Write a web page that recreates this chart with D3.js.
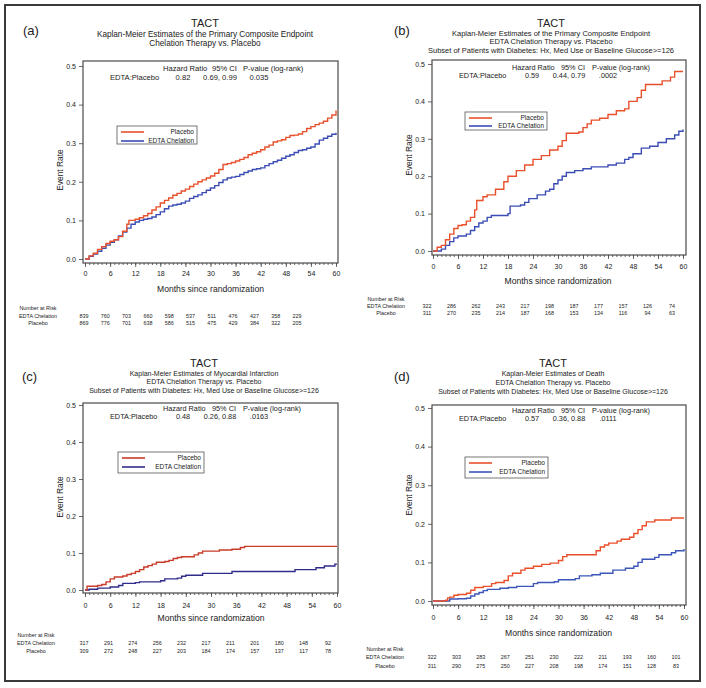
<!DOCTYPE html>
<html><head><meta charset="utf-8">
<script src="https://cdn.jsdelivr.net/npm/d3@7"></script>
<style>body{margin:0;background:#fff} text{font-family:"Liberation Sans",Arial,sans-serif;fill:#222}</style>
</head><body><svg id="c" width="706" height="688"></svg>
<script>
// ---------- data ----------
const monthTicks = [0,6,12,18,24,30,36,42,48,54,60];
const yTicks = [0,0.1,0.2,0.3,0.4,0.5];
const seriesNames = ["Placebo","EDTA Chelation"];
const riskRowLabels = ["Number at Risk","EDTA Chelation","Placebo"];
const hrHeader = ["Hazard Ratio","95% CI","P-value (log-rank)"];

const titlesA = ["TACT","Kaplan-Meier Estimates of the Primary Composite Endpoint","Chelation Therapy vs. Placebo"];
const titlesB = ["TACT","Kaplan-Meier Estimates of the Primary Composite Endpoint","EDTA Chelation Therapy vs. Placebo","Subset of Patients with Diabetes: Hx, Med Use or Baseline Glucose>=126"];
const titlesC = ["TACT","Kaplan-Meier Estimates of Myocardial Infarction","EDTA Chelation Therapy vs. Placebo","Subset of Patients with Diabetes: Hx, Med Use or Baseline Glucose>=126"];
const titlesD = ["TACT","Kaplan-Meier Estimates of Death","EDTA Chelation Therapy vs. Placebo","Subset of Patients with Diabetes: Hx, Med Use or Baseline Glucose>=126"];

const hrA = ["EDTA:Placebo","0.82","0.69, 0.99","0.035"];
const hrB = ["EDTA:Placebo","0.59","0.44, 0.79",".0002"];
const hrC = ["EDTA:Placebo","0.48","0.26, 0.88",".0163"];
const hrD = ["EDTA:Placebo","0.57","0.36, 0.88",".0111"];

const riskA_edta = [839,760,703,660,598,537,511,476,427,358,229];
const riskA_plac = [869,776,701,638,586,515,475,429,384,322,205];
const riskB_edta = [322,286,262,243,217,198,187,177,157,126,74];
const riskB_plac = [311,270,235,214,187,168,153,134,116,94,63];
const riskC_edta = [317,291,274,256,232,217,211,201,180,148,92];
const riskC_plac = [309,272,248,227,203,184,174,157,137,117,78];
const riskD_edta = [322,303,283,267,251,230,222,211,193,160,101];
const riskD_plac = [311,290,275,250,227,208,198,174,151,128,83];

// step curves: [month, event rate]
const kmA_plac = [[0,0],[1,0.008],[2,0.015],[3,0.025],[4,0.032],[5,0.04],[6,0.046],[7,0.05],[8,0.058],[9,0.072],[10,0.09],[10.5,0.1],[12,0.103],[13,0.107],[14,0.112],[15,0.118],[16,0.127],[17,0.135],[18,0.145],[19,0.152],[20,0.158],[21,0.165],[22,0.17],[23,0.176],[24,0.181],[25,0.188],[26,0.194],[27,0.2],[28,0.205],[29,0.21],[30,0.215],[31,0.222],[32,0.232],[33,0.245],[34,0.247],[35,0.25],[36,0.254],[37,0.258],[38,0.263],[39,0.27],[40,0.274],[41,0.278],[42,0.283],[43,0.29],[44,0.295],[45,0.303],[46,0.306],[47,0.309],[48,0.315],[49,0.32],[50,0.321],[51,0.324],[52,0.33],[53,0.338],[54,0.343],[55,0.348],[56,0.352],[57,0.357],[58,0.365],[59,0.373],[60,0.385]];
const kmA_edta = [[0,0],[1,0.007],[2,0.013],[3,0.02],[4,0.028],[5,0.036],[6,0.043],[7,0.05],[8,0.06],[9,0.07],[10,0.08],[11,0.09],[12,0.096],[13,0.1],[14,0.103],[15,0.105],[16,0.109],[17,0.115],[18,0.122],[19,0.13],[20,0.137],[21,0.14],[22,0.142],[23,0.145],[24,0.15],[25,0.157],[26,0.162],[27,0.166],[28,0.172],[29,0.178],[30,0.184],[31,0.19],[32,0.198],[33,0.205],[34,0.21],[35,0.212],[36,0.214],[37,0.219],[38,0.224],[39,0.228],[40,0.232],[41,0.234],[42,0.236],[43,0.242],[44,0.247],[45,0.252],[46,0.256],[47,0.261],[48,0.266],[49,0.27],[50,0.276],[51,0.281],[52,0.283],[53,0.287],[54,0.29],[55,0.298],[56,0.308],[57,0.313],[58,0.318],[59,0.323],[60,0.327]];

const kmB_plac = [[0,0],[1,0.01],[2,0.015],[3,0.03],[4,0.045],[5,0.06],[6,0.068],[7,0.07],[8,0.08],[9,0.09],[10,0.11],[10.5,0.135],[12,0.145],[13,0.15],[15,0.165],[17,0.185],[18,0.2],[20,0.215],[22,0.23],[24,0.245],[26,0.255],[28,0.27],[30,0.28],[31,0.295],[32,0.315],[35,0.318],[36,0.33],[37,0.34],[38,0.35],[40,0.355],[42,0.365],[44,0.375],[46,0.38],[47,0.4],[49,0.41],[50,0.43],[51,0.445],[54,0.445],[55,0.455],[57,0.465],[58,0.48],[60,0.48]];
const kmB_edta = [[0,0],[2,0.005],[3,0.015],[4,0.025],[5,0.035],[6,0.04],[8,0.045],[9,0.055],[10,0.065],[11,0.075],[12,0.08],[13,0.09],[14,0.095],[18,0.1],[18.5,0.12],[21,0.123],[22,0.13],[23,0.14],[25,0.15],[27,0.16],[28,0.165],[29,0.18],[30,0.19],[31,0.2],[32,0.21],[34,0.215],[36,0.22],[38,0.225],[42,0.23],[44,0.235],[46,0.245],[47,0.25],[48,0.26],[50,0.275],[52,0.28],[54,0.29],[56,0.3],[58,0.31],[59,0.32],[60,0.325]];

const kmC_plac = [[0,0],[0.5,0.01],[3,0.012],[4,0.015],[5,0.022],[6,0.03],[7,0.035],[9,0.038],[10,0.042],[11,0.045],[12,0.05],[13,0.055],[14,0.062],[15,0.066],[16,0.07],[17,0.075],[19,0.077],[20,0.08],[21,0.085],[22,0.088],[23,0.09],[26,0.095],[27,0.1],[28,0.105],[32,0.108],[35,0.11],[37,0.115],[38,0.118],[60,0.118]];
const kmC_edta = [[0,0],[1,0.002],[3,0.005],[6,0.008],[8,0.012],[9,0.018],[12,0.02],[13,0.022],[18,0.025],[19,0.03],[22,0.032],[23,0.037],[24,0.04],[28,0.045],[35,0.05],[50,0.055],[55,0.06],[57,0.065],[59.5,0.07],[60,0.07]];

const kmD_plac = [[0,0],[3,0.002],[3.5,0.008],[4,0.01],[5,0.015],[6,0.017],[8,0.02],[9,0.028],[10,0.035],[12,0.038],[14,0.045],[15,0.048],[17,0.053],[18,0.065],[19,0.072],[21,0.08],[22,0.085],[24,0.09],[26,0.095],[28,0.098],[30,0.105],[31,0.115],[32,0.12],[38,0.12],[39,0.13],[40,0.14],[41,0.145],[42,0.15],[44,0.155],[45,0.16],[47,0.165],[48,0.175],[49,0.185],[50,0.195],[51,0.205],[53,0.21],[57,0.215],[60,0.215]];
const kmD_edta = [[0,0],[4,0.005],[6,0.006],[8,0.007],[9,0.013],[10,0.018],[11,0.022],[12,0.027],[13,0.03],[16,0.033],[18,0.035],[20,0.038],[24,0.045],[25,0.048],[29,0.05],[30,0.055],[34,0.058],[35,0.065],[38,0.068],[40,0.072],[43,0.08],[46,0.085],[48,0.09],[49,0.1],[50,0.108],[53,0.113],[54,0.12],[57,0.125],[58,0.13],[60,0.135]];

// ---------- layout ----------
const svg = d3.select("#c");
svg.append("rect").attr("x",5).attr("y",5).attr("width",695).attr("height",676)
  .attr("fill","none").attr("stroke","#3a3a3a").attr("stroke-width",2);

const panels = [
 {lab:"(a)", labX:23, labY:35, tX:205, tY:[27,37,46], tSize:[11,8.2,8.2], titles:titlesA,
  box:{l:83,r:338,t:61,b:263}, x:[85,336], y:[259,66], hr:hrA, hrSize:7.6, hrY:[71,80],
  leg:{l:117,r:197,t:126,b:144,y1:132,y2:141}, yLabY:170,
  tickY:276, xTitleY:292, riskX:[84,297], riskY:[310,318,325], riskLabX:38,
  colors:["#e8502c","#3b4db5"], plac:kmA_plac, edta:kmA_edta, rE:riskA_edta, rP:riskA_plac},
 {lab:"(b)", labX:394, labY:35, tX:551, tY:[27,36,44,53], tSize:[11,7.5,7.5,7.5], titles:titlesB,
  box:{l:432,r:686,t:60,b:255}, x:[433,683], y:[251,64], hr:hrB, hrSize:7.3, hrY:[70,78],
  leg:{l:465,r:547,t:112,b:130,y1:118,y2:126}, yLabY:155,
  tickY:269, xTitleY:284, riskX:[427,672], riskY:[301,308,315], riskLabX:386,
  colors:["#e8502c","#3b4db5"], plac:kmB_plac, edta:kmB_edta, rE:riskB_edta, rP:riskB_plac},
 {lab:"(c)", labX:22, labY:381, tX:204, tY:[367,376,384,393], tSize:[11,7,7,7], titles:titlesC,
  box:{l:83,r:338,t:403,b:593}, x:[85,337], y:[590,405], hr:hrC, hrSize:7.3, hrY:[411,419],
  leg:{l:118,r:204,t:452,b:473,y1:458,y2:467}, yLabY:497,
  tickY:608, xTitleY:621, riskX:[84,328], riskY:[637,645,653], riskLabX:36,
  colors:["#c93a28","#2f2d8c"], plac:kmC_plac, edta:kmC_edta, rE:riskC_edta, rP:riskC_plac},
 {lab:"(d)", labX:394, labY:381, tX:553, tY:[367,376,385,394], tSize:[11,7,7,7], titles:titlesD,
  box:{l:432,r:686,t:405,b:605}, x:[433,684], y:[601,408], hr:hrD, hrSize:7.3, hrY:[413,421],
  leg:{l:465,r:548,t:457,b:478,y1:463,y2:472}, yLabY:495,
  tickY:620, xTitleY:636, riskX:[432,676], riskY:[651,659,668], riskLabX:385,
  colors:["#ea4f2a","#3b55b8"], plac:kmD_plac, edta:kmD_edta, rE:riskD_edta, rP:riskD_plac}
];

panels.forEach(p => {
  const g = svg.append("g");
  g.append("text").attr("x",p.labX).attr("y",p.labY).attr("font-size",13).text(p.lab);
  p.titles.forEach((t,i) => g.append("text").attr("x",p.tX).attr("y",p.tY[i])
     .attr("text-anchor","middle").attr("font-size",p.tSize[i]).text(t));

  const x = d3.scaleLinear().domain([0,60]).range(p.x);
  const y = d3.scaleLinear().domain([0,0.5]).range(p.y);

  g.append("rect").attr("x",p.box.l).attr("y",p.box.t)
   .attr("width",p.box.r-p.box.l).attr("height",p.box.b-p.box.t)
   .attr("fill","none").attr("stroke","#4a4a4a").attr("stroke-width",1.2);

  const yAx = g.append("g").attr("transform",`translate(${p.box.l},0)`);
  yAx.call(d3.axisLeft(y).tickValues(d3.range(0,51).map(d=>d/100)).tickSize(2).tickFormat(""))
     .call(s=>s.select(".domain").remove());
  yAx.call(d3.axisLeft(y).tickValues(yTicks).tickSize(4).tickFormat(d3.format(".1f")))
     .call(s=>s.select(".domain").remove());
  yAx.selectAll("line").attr("stroke","#444").attr("stroke-width",0.8);
  yAx.selectAll("text").attr("font-size",7).attr("font-family","Liberation Sans, Arial, sans-serif").attr("fill","#333");

  const xAx = g.append("g").attr("transform",`translate(0,${p.box.b})`);
  xAx.call(d3.axisBottom(x).tickValues(d3.range(0,61)).tickSize(2).tickFormat(""))
     .call(s=>s.select(".domain").remove());
  const xMaj = g.append("g").attr("transform",`translate(0,${p.box.b})`);
  xMaj.call(d3.axisBottom(x).tickValues(monthTicks).tickSize(4).tickFormat(d3.format("d")))
     .call(s=>s.select(".domain").remove());
  xMaj.selectAll("text").attr("y",null).attr("dy",null)
     .attr("transform",`translate(0,${p.tickY - p.box.b})`)
     .attr("font-size",7).attr("font-family","Liberation Sans, Arial, sans-serif").attr("fill","#333");
  g.selectAll("g.tick line").attr("stroke","#444").attr("stroke-width",0.8);

  g.append("text").attr("x",(p.x[0]+p.x[1])/2).attr("y",p.xTitleY).attr("text-anchor","middle")
   .attr("font-size",8.6).text("Months since randomization");
  g.append("text").attr("transform",`translate(${p.box.l-20},${p.yLabY}) rotate(-90)`)
   .attr("text-anchor","middle").attr("font-size",8.4).text("Event Rate");

  const hx = p.box.l;
  const hrs = p.hrSize;
  g.append("text").attr("x",hx+80).attr("y",p.hrY[0]).attr("font-size",hrs).text(hrHeader[0]);
  g.append("text").attr("x",hx+129).attr("y",p.hrY[0]).attr("font-size",hrs).text(hrHeader[1]);
  g.append("text").attr("x",hx+160).attr("y",p.hrY[0]).attr("font-size",hrs).text(hrHeader[2]);
  g.append("text").attr("x",hx+27).attr("y",p.hrY[1]).attr("font-size",hrs).text(p.hr[0]);
  g.append("text").attr("x",hx+100).attr("y",p.hrY[1]).attr("text-anchor","middle").attr("font-size",hrs).text(p.hr[1]);
  g.append("text").attr("x",hx+137).attr("y",p.hrY[1]).attr("text-anchor","middle").attr("font-size",hrs).text(p.hr[2]);
  g.append("text").attr("x",hx+176).attr("y",p.hrY[1]).attr("text-anchor","middle").attr("font-size",hrs).text(p.hr[3]);

  const line = d3.line().x(d=>x(d[0])).y(d=>y(d[1])).curve(d3.curveStepAfter);
  g.append("path").datum(p.edta).attr("d",line).attr("fill","none")
   .attr("stroke",p.colors[1]).attr("stroke-width",1.4);
  g.append("path").datum(p.plac).attr("d",line).attr("fill","none")
   .attr("stroke",p.colors[0]).attr("stroke-width",1.4);

  const L = p.leg;
  g.append("rect").attr("x",L.l).attr("y",L.t).attr("width",L.r-L.l).attr("height",L.b-L.t)
   .attr("fill","#fff").attr("stroke","#555").attr("stroke-width",0.8);
  [[L.y1,p.colors[0],seriesNames[0]],[L.y2,p.colors[1],seriesNames[1]]].forEach(([yy,c,t]) => {
    g.append("line").attr("x1",L.l+4).attr("x2",L.l+27).attr("y1",yy).attr("y2",yy)
     .attr("stroke",c).attr("stroke-width",1.6);
    g.append("text").attr("x",L.r-3).attr("y",yy+2.3).attr("text-anchor","end")
     .attr("font-size",6.5).text(t);
  });

  const rx = d3.scaleLinear().domain([0,60]).range(p.riskX);
  riskRowLabels.forEach((t,i) => g.append("text").attr("x",p.riskLabX).attr("y",p.riskY[i])
     .attr("text-anchor","middle").attr("font-size",5.4).text(t));
  [[p.rE,1],[p.rP,2]].forEach(([arr,row]) => {
    g.selectAll(null).data(arr).enter().append("text")
     .attr("x",(d,i)=>rx(monthTicks[i])).attr("y",p.riskY[row])
     .attr("text-anchor","middle").attr("font-size",5.4).text(d=>d);
  });
});
</script></body></html>
